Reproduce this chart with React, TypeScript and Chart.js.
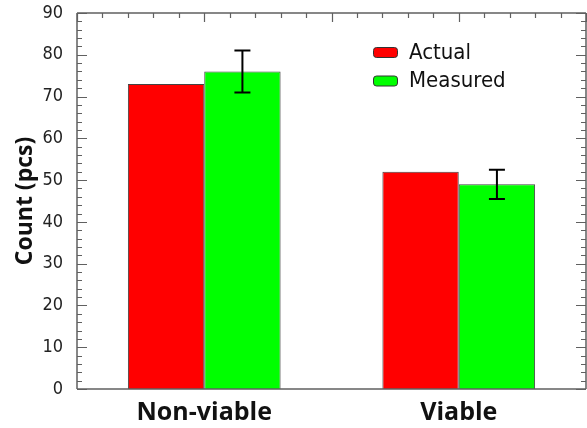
import React, { useEffect, useRef } from "react";
import { Chart, registerables } from "chart.js";

Chart.register(...registerables);

const categories = ["Non-viable", "Viable"];
const seriesNames = ["Actual", "Measured"];
const actualValues = [73, 52];
const measuredValues = [76, 49];
const actualErrors = [0, 0];
const measuredErrors = [5, 3.5];
const yMin = 0;
const yMax = 90;
const yStep = 10;
const yMinorStep = 2;
const seriesColors = ["#ff0000", "#00ff00"];

const frameColor = "#606060";
const condensed = "'DejaVu Sans Condensed', 'DejaVu Sans', sans-serif";

const decorPlugin = {
  id: "decor",
  afterDatasetsDraw(chart: any) {
    const ctx = chart.ctx;
    const { left, right, top, bottom } = chart.chartArea;
    const y = chart.scales.y;
    const x = chart.scales.x;
    ctx.save();
    // error bars
    const errs = [actualErrors, measuredErrors];
    chart.data.datasets.forEach((ds: any, di: number) => {
      const meta = chart.getDatasetMeta(di);
      meta.data.forEach((bar: any, i: number) => {
        const e = errs[di][i];
        if (!e) return;
        const v = ds.data[i];
        const yt = y.getPixelForValue(v + e);
        const yb = y.getPixelForValue(v - e);
        const cx = bar.x;
        ctx.strokeStyle = "#000";
        ctx.lineWidth = 2;
        ctx.beginPath();
        ctx.moveTo(cx, yt);
        ctx.lineTo(cx, yb);
        ctx.moveTo(cx - 8, yt);
        ctx.lineTo(cx + 8, yt);
        ctx.moveTo(cx - 8, yb);
        ctx.lineTo(cx + 8, yb);
        ctx.stroke();
      });
    });
    // frame
    ctx.strokeStyle = frameColor;
    ctx.lineWidth = 1.5;
    ctx.beginPath();
    ctx.moveTo(left, top);
    ctx.lineTo(right, top);
    ctx.moveTo(left, top);
    ctx.lineTo(left, bottom);
    ctx.moveTo(left, bottom);
    ctx.lineTo(right, bottom);
    ctx.moveTo(right, top);
    ctx.lineTo(right, bottom);
    ctx.stroke();
    // y ticks (inward, both sides)
    ctx.lineWidth = 1.2;
    for (let v = yMin; v <= yMax; v += yMinorStep) {
      const py = Math.round(y.getPixelForValue(v)) + 0.5;
      const len = v % yStep === 0 ? 10 : 5;
      ctx.beginPath();
      ctx.moveTo(left, py);
      ctx.lineTo(left + len, py);
      ctx.moveTo(right, py);
      ctx.lineTo(right - len, py);
      ctx.stroke();
    }
    // top ticks
    for (let k = 0; k <= 20; k++) {
      const px = Math.round(x.getPixelForValue(-0.5 + k * 0.1)) + 0.5;
      const len = k % 5 === 0 ? 9 : 5;
      ctx.beginPath();
      ctx.moveTo(px, top);
      ctx.lineTo(px, top + len);
      ctx.stroke();
    }
    // legend
    const lx = 373;
    const ly = 47;
    ctx.font = "22px " + condensed;
    ctx.textBaseline = "middle";
    ctx.textAlign = "left";
    seriesNames.forEach((name, i) => {
      const by = ly + i * 28.5;
      ctx.fillStyle = seriesColors[i];
      ctx.strokeStyle = "#333";
      ctx.lineWidth = 1;
      ctx.beginPath();
      (ctx as any).roundRect(lx + 0.5, by + 0.5, 24, 10, 3);
      ctx.fill();
      ctx.stroke();
      ctx.fillStyle = "#111";
      ctx.fillText(name, lx + 36, by + 6);
    });
    ctx.restore();
  },
};

export default function App() {
  const ref = useRef<HTMLCanvasElement>(null);
  useEffect(() => {
    if (!ref.current) return;
    const chart = new Chart(ref.current, {
      type: "bar",
      data: {
        labels: categories,
        datasets: [
          {
            label: seriesNames[0],
            data: actualValues,
            backgroundColor: seriesColors[0],
            borderColor: "#444",
            borderWidth: 1,
            barPercentage: 1,
            categoryPercentage: 0.6,
          },
          {
            label: seriesNames[1],
            data: measuredValues,
            backgroundColor: seriesColors[1],
            borderColor: "#444",
            borderWidth: 1,
            barPercentage: 1,
            categoryPercentage: 0.6,
          },
        ],
      },
      options: {
        responsive: false,
        animation: false,
        layout: { padding: { top: 13, right: 1, left: 0, bottom: 0 } },
        plugins: { legend: { display: false }, tooltip: { enabled: false } },
        scales: {
          x: {
            grid: { display: false, drawTicks: false },
            border: { display: false },
            ticks: {
              color: "#111",
              font: { family: "'Open Sans'", size: 25, weight: "bold" },
              padding: 9,
            },
            afterFit: (s: any) => {
              s.height = 39;
              s.paddingLeft = 0;
              s.paddingRight = 0;
            },
          },
          y: {
            min: yMin,
            max: yMax,
            grid: { display: false, drawTicks: false },
            border: { display: false },
            ticks: {
              stepSize: yStep,
              color: "#222",
              font: { family: condensed, size: 18 },
              padding: 14,
            },
            title: {
              display: true,
              text: "Count (pcs)",
              color: "#111",
              font: { family: "'Open Sans'", size: 23, weight: "bold" },
              padding: { top: 12, bottom: 0 },
            },
            afterFit: (s: any) => {
              s.width = 77;
              s.paddingTop = 0;
              s.paddingBottom = 0;
            },
          },
        },
      },
      plugins: [decorPlugin],
    });
    return () => chart.destroy();
  }, []);
  return (
    <div style={{ position: "absolute", left: 0, top: 0, width: 587, height: 428, background: "#fff" }}>
      <canvas ref={ref} width={587} height={428} />
    </div>
  );
}
